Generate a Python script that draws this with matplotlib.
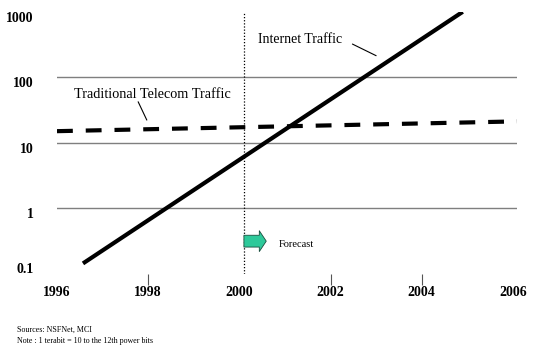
import matplotlib
matplotlib.use("Agg")
import matplotlib.pyplot as plt
import matplotlib.transforms as mtransforms
from matplotlib.patches import FancyArrowPatch

# data (log scale, traffic in terabits)
internet_years = [1996.57, 2004.9]
internet_traffic = [0.145, 1000]
telecom_years = [1996.0, 2006.1]
telecom_traffic = [15.1, 21.3]
year_ticks = [1996, 1998, 2000, 2002, 2004, 2006]
value_ticks = [1000, 100, 10, 1, 0.1]
value_labels = ["1000", "100", "10", "1", "0.1"]
grid_values = [1, 10, 100]
forecast_year = 2000.1

serif = "Liberation Serif"

fig = plt.figure(figsize=(5.4, 3.52), dpi=100)
ax = fig.add_axes([57 / 540, 78 / 352, 460 / 540, 262.2 / 352])
ax.set_yscale("log")
ax.set_xlim(1996.05, 2006.09)
ax.set_ylim(0.1, 1000)

for v in grid_values:
    ax.axhline(v, color="#7f7f7f", lw=1.0, zorder=1)

ax.axvline(forecast_year, color="black", lw=0.9, ls=(0, (1, 1.5)), zorder=2)

ax.plot(telecom_years, telecom_traffic, color="black", lw=3,
        dashes=(3.8, 3.1), solid_capstyle="butt", zorder=3)
ax.plot(internet_years, internet_traffic, color="black", lw=3,
        solid_capstyle="butt", zorder=4)

for s in ax.spines.values():
    s.set_visible(False)

ax.set_yticks(value_ticks)
ax.set_yticklabels(value_labels, family=serif, fontweight="bold", fontsize=10)
ax.yaxis.set_minor_locator(matplotlib.ticker.NullLocator())
ax.tick_params(axis="y", length=0, pad=17)
# labels sit a little below their gridlines in the original
offsets = [-5, -5, -5, -5, 6]
for lbl, dy in zip(ax.get_yticklabels(), offsets):
    lbl.set_transform(lbl.get_transform() +
                      mtransforms.ScaledTranslation(0, dy / 100, fig.dpi_scale_trans))

ax.set_xticks(year_ticks)
ax.set_xticklabels([str(y) for y in year_ticks], family=serif,
                   fontweight="bold", fontsize=10)
ax.tick_params(axis="x", direction="out", length=8, width=0.8,
               color="#555555", pad=0.5)
for i, t in enumerate(ax.xaxis.get_major_ticks()):
    if year_ticks[i] in (1996, 2000, 2006):
        t.tick1line.set_visible(False)

# annotations
ax.text(2000.41, 384, "Internet Traffic", family=serif, fontsize=10,
        va="center", ha="left")
ax.annotate("", xy=(2003.0, 214), xytext=(2002.48, 322),
            arrowprops=dict(arrowstyle="-", lw=0.8, color="black",
                            shrinkA=0, shrinkB=0))
ax.text(1996.37, 55, "Traditional Telecom Traffic", family=serif, fontsize=10.3,
        va="center", ha="left")
ax.annotate("", xy=(1997.97, 22.3), xytext=(1997.78, 42.4),
            arrowprops=dict(arrowstyle="-", lw=0.8, color="black",
                            shrinkA=0, shrinkB=0))

arrow = FancyArrowPatch((forecast_year, 0.317), (forecast_year + 0.49, 0.317),
                        arrowstyle="simple,head_length=0.5,head_width=1.5,tail_width=0.85",
                        mutation_scale=10, fc="#2ec99a", ec="#1a4d3d", lw=0.6,
                        shrinkA=0, shrinkB=0, zorder=5)
ax.add_patch(arrow)
ax.text(2000.87, 0.285, "Forecast", family=serif, fontsize=7.5,
        va="center", ha="left")

fig.text(16.7 / 540, 1 - 330 / 352, "Sources: NSFNet, MCI", family=serif,
         fontsize=5.8, va="center", ha="left")
fig.text(16.7 / 540, 1 - 341 / 352, "Note : 1 terabit = 10 to the 12th power bits",
         family=serif, fontsize=5.8, va="center", ha="left")

fig.savefig("out.png", dpi=100)
